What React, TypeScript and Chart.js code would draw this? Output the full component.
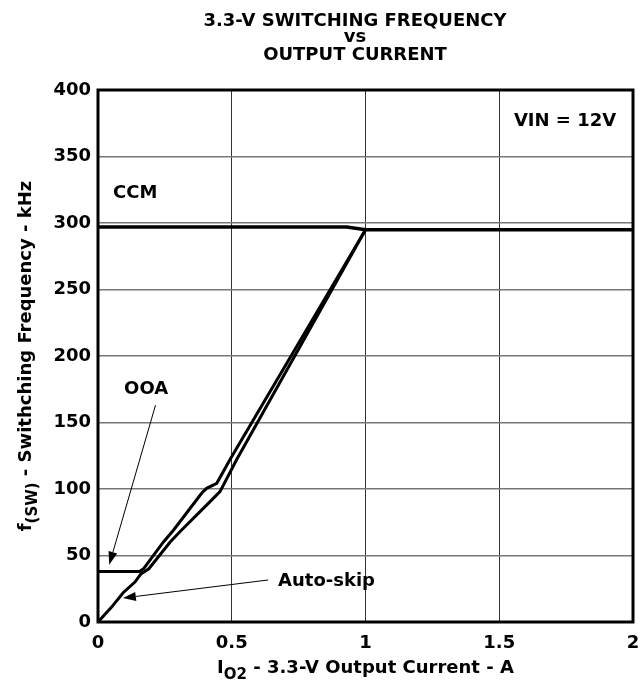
import React, { useEffect, useRef } from 'react';
import { Chart, registerables } from 'chart.js';

Chart.register(...registerables);

// ---- data ----
const ccmCurrent = [0, 0.93, 1.0, 2.0];
const ccmFreq = [297, 297, 295, 295];

const ooaCurrent = [0, 0.155, 0.17, 0.244, 0.282, 0.388, 0.406, 0.444, 0.493, 1.0];
const ooaFreq = [38, 38, 40, 60, 69, 97, 100.5, 104.3, 122, 295];

const skipCurrent = [0, 0.05, 0.094, 0.138, 0.16, 0.19, 0.269, 0.307, 0.419, 0.456, 0.518, 1.0];
const skipFreq = [0, 11, 22, 30, 36, 40, 60, 68, 90.5, 98, 122, 295];

const xTicks = [0, 0.5, 1, 1.5, 2];
const xTickLabels = ['0', '0.5', '1', '1.5', '2'];
const yTicks = [0, 50, 100, 150, 200, 250, 300, 350, 400];
const yTickLabels = ['0', '50', '100', '150', '200', '250', '300', '350', '400'];

const titleLines = ['3.3-V SWITCHING FREQUENCY', 'vs', 'OUTPUT CURRENT'];

// annotation labels: text, x (A), y (kHz), alignment
const labelTexts = ['VIN = 12V', 'CCM', 'OOA', 'Auto-skip'];
const labelX = [1.746, 0.056, 0.18, 0.673];
const labelY = [377, 323, 176, 31.6];
const labelAlign: CanvasTextAlign[] = ['center', 'left', 'center', 'left'];

// arrows: from (x0,y0) to tip (x1,y1) in data units
const arrowFromX = [0.215, 0.636];
const arrowFromY = [163, 31.6];
const arrowToX = [0.042, 0.093];
const arrowToY = [43, 18];

const FONT = '"DejaVu Sans", "Liberation Sans", Arial, sans-serif';

const toPts = (xs: number[], ys: number[]) => xs.map((x, i) => ({ x, y: ys[i] }));

const decorPlugin = {
  id: 'decor',
  afterDatasetsDraw(chart: any) {
    const ctx: CanvasRenderingContext2D = chart.ctx;
    const { left, right, top, bottom } = chart.chartArea;
    const xs = chart.scales.x;
    const ys = chart.scales.y;
    ctx.save();

    // plot border
    ctx.strokeStyle = '#000';
    ctx.lineWidth = 3;
    ctx.strokeRect(left, top, right - left, bottom - top);

    ctx.fillStyle = '#000';

    // chart title
    ctx.textAlign = 'center';
    ctx.textBaseline = 'alphabetic';
    const tcx = 355;
    ctx.font = `bold 18px ${FONT}`;
    ctx.fillText(titleLines[0], tcx, 25.5);
    ctx.fillText(titleLines[1], tcx, 42);
    ctx.fillText(titleLines[2], tcx, 59.5);

    // annotation labels
    ctx.font = `bold 18px ${FONT}`;
    ctx.textBaseline = 'middle';
    for (let i = 0; i < labelTexts.length; i++) {
      ctx.textAlign = labelAlign[i];
      ctx.fillText(labelTexts[i], xs.getPixelForValue(labelX[i]), ys.getPixelForValue(labelY[i]) + 1);
    }

    // arrows
    ctx.lineWidth = 1;
    for (let i = 0; i < arrowFromX.length; i++) {
      const x0 = xs.getPixelForValue(arrowFromX[i]);
      const y0 = ys.getPixelForValue(arrowFromY[i]);
      const x1 = xs.getPixelForValue(arrowToX[i]);
      const y1 = ys.getPixelForValue(arrowToY[i]);
      const ang = Math.atan2(y1 - y0, x1 - x0);
      const hl = 13;
      const hw = 4.5;
      const bx = x1 - hl * Math.cos(ang);
      const by = y1 - hl * Math.sin(ang);
      ctx.beginPath();
      ctx.moveTo(x0, y0);
      ctx.lineTo(bx, by);
      ctx.stroke();
      ctx.beginPath();
      ctx.moveTo(x1, y1);
      ctx.lineTo(bx - hw * Math.sin(ang), by + hw * Math.cos(ang));
      ctx.lineTo(bx + hw * Math.sin(ang), by - hw * Math.cos(ang));
      ctx.closePath();
      ctx.fill();
    }

    // x axis title with subscript
    const cx = (left + right) / 2;
    const mainF = `bold 18px ${FONT}`;
    const subF = `bold 15px ${FONT}`;
    ctx.textAlign = 'left';
    ctx.textBaseline = 'alphabetic';
    const xa = 'I', xsub = 'O2', xb = ' - 3.3-V Output Current - A';
    ctx.font = mainF;
    const wa = ctx.measureText(xa).width;
    const wb = ctx.measureText(xb).width;
    ctx.font = subF;
    const wsub = ctx.measureText(xsub).width;
    let px = cx - (wa + wsub + wb) / 2;
    const base = 673;
    ctx.font = mainF;
    ctx.fillText(xa, px, base);
    px += wa;
    ctx.font = subF;
    ctx.fillText(xsub, px, base + 6);
    px += wsub;
    ctx.font = mainF;
    ctx.fillText(xb, px, base);

    // y axis title with subscript (rotated)
    const cy = (top + bottom) / 2;
    const ya = 'f', ysub = '(SW)', yb = ' - Swithching Frequency - kHz';
    ctx.font = mainF;
    const ywa = ctx.measureText(ya).width;
    const ywb = ctx.measureText(yb).width;
    ctx.font = subF;
    const ywsub = ctx.measureText(ysub).width;
    ctx.translate(31, cy);
    ctx.rotate(-Math.PI / 2);
    let py = -(ywa + ywsub + ywb) / 2;
    ctx.font = mainF;
    ctx.fillText(ya, py, 0);
    py += ywa;
    ctx.font = subF;
    ctx.fillText(ysub, py, 6);
    py += ywsub;
    ctx.font = mainF;
    ctx.fillText(yb, py, 0);

    ctx.restore();
  },
};

export default function App() {
  const ref = useRef<HTMLCanvasElement | null>(null);

  useEffect(() => {
    document.body.style.margin = '0';
    const canvas = ref.current;
    if (!canvas) return;
    const lineStyle = {
      borderColor: '#000',
      backgroundColor: '#000',
      borderWidth: 3,
      pointRadius: 0,
      tension: 0,
      fill: false,
    };
    const chart = new Chart(canvas, {
      type: 'line',
      data: {
        datasets: [
          { label: 'CCM', data: toPts(ccmCurrent, ccmFreq), ...lineStyle, borderWidth: 3.5 },
          { label: 'OOA', data: toPts(ooaCurrent, ooaFreq), ...lineStyle },
          { label: 'Auto-skip', data: toPts(skipCurrent, skipFreq), ...lineStyle },
        ],
      },
      options: {
        animation: false,
        responsive: false,
        maintainAspectRatio: false,
        layout: { padding: { top: 90, right: 8, left: 0, bottom: 0 } },
        plugins: {
          legend: { display: false },
          title: { display: false },
          tooltip: { enabled: false },
        },
        scales: {
          x: {
            type: 'linear',
            min: 0,
            max: 2,
            afterBuildTicks: (s: any) => {
              s.ticks = xTicks.map((v) => ({ value: v }));
            },
            afterFit: (s: any) => {
              s.height = 78;
              s.paddingLeft = 0;
              s.paddingRight = 0;
            },
            ticks: {
              callback: (_v: any, i: number) => xTickLabels[i],
              color: '#000',
              font: { family: FONT, size: 18, weight: 'bold' },
              padding: 11,
              maxRotation: 0,
            },
            grid: { color: '#333', lineWidth: 1, drawTicks: false },
            border: { display: false },
          },
          y: {
            type: 'linear',
            min: 0,
            max: 400,
            afterBuildTicks: (s: any) => {
              s.ticks = yTicks.map((v) => ({ value: v }));
            },
            afterFit: (s: any) => {
              s.width = 98;
              s.paddingTop = 0;
              s.paddingBottom = 0;
            },
            ticks: {
              callback: (_v: any, i: number) => yTickLabels[i],
              color: '#000',
              font: { family: FONT, size: 18, weight: 'bold' },
              padding: 7,
            },
            grid: { color: '#777', lineWidth: 1.5, drawTicks: false },
            border: { display: false },
          },
        },
      },
      plugins: [decorPlugin],
    });
    return () => chart.destroy();
  }, []);

  return (
    <div style={{ width: 641, height: 700, background: '#fff' }}>
      <canvas ref={ref} width={641} height={700} style={{ display: 'block', width: 641, height: 700 }} />
    </div>
  );
}
